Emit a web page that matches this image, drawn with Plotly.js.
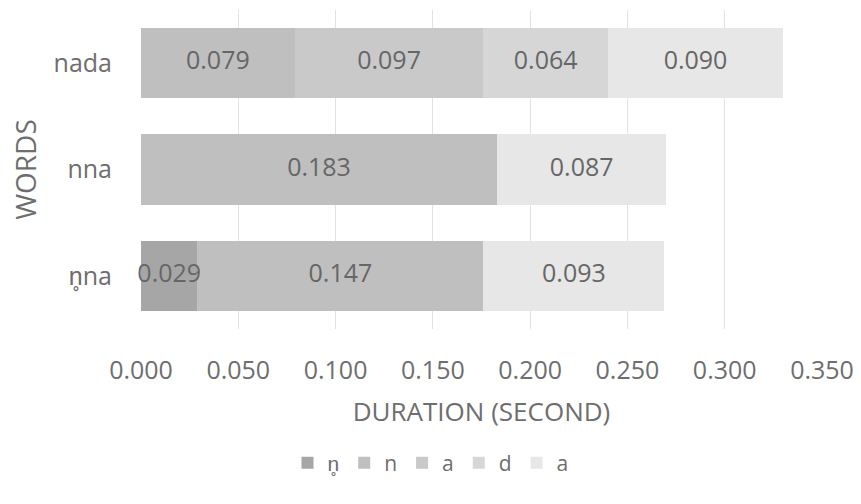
<!DOCTYPE html>
<html>
<head>
<meta charset="utf-8">
<script src="https://cdn.plot.ly/plotly-3.0.1.min.js"></script>
<style>html,body{margin:0;padding:0;background:#fff}#chart{width:861px;height:504px}</style>
</head>
<body>
<div id="chart"></div>
<script>
// Categories, bottom to top
const words = ["n\u0325na", "nna", "nada"];
// Segment series (null = segment not present)
const segNames = ["n\u0325", "n", "a", "d", "a"];
const segN0 = [0.029, null, null];     // n̥
const segN  = [0.147, 0.183, 0.079];   // n
const segA1 = [null, null, 0.097];     // a
const segD  = [null, null, 0.064];     // d
const segA2 = [0.093, 0.087, 0.090];   // a (final)
const xTicks = [0, 0.05, 0.10, 0.15, 0.20, 0.25, 0.30, 0.35];
const xTickText = ["0.000","0.050","0.100","0.150","0.200","0.250","0.300","0.350"];

const colors = ["#a6a6a6", "#bfbfbf", "#c9c9c9", "#d6d6d6", "#e7e7e7"];
const series = [segN0, segN, segA1, segD, segA2];
const FONT = "Open Sans, sans-serif";
const TXT = "#6e6e6e";

const traces = series.map((vals, i) => ({
  type: "bar",
  orientation: "h",
  name: segNames[i],
  y: words,
  x: vals,
  marker: {color: colors[i], line: {width: 0}},
  hoverinfo: "skip"
}));

// Data labels drawn on top of all bars, centred on each segment (derived from the data)
const lx = [], ly = [], lt = [];
words.forEach((w, j) => {
  let base = 0;
  series.forEach(vals => {
    const v = vals[j];
    if (v != null) {
      lx.push(base + v / 2); ly.push(w); lt.push(v.toFixed(3));
      base += v;
    }
  });
});
traces.push({
  type: "scatter", mode: "text",
  x: lx, y: ly, text: lt,
  textposition: "middle center",
  textfont: {family: FONT, size: 25, color: "#666666"},
  cliponaxis: false, showlegend: false, hoverinfo: "skip"
});

const layout = {
  width: 861, height: 504,
  margin: {l: 141, r: 39, t: 10, b: 175},
  barmode: "stack",
  bargap: 0.34,
  paper_bgcolor: "#fff",
  plot_bgcolor: "#fff",
  font: {family: FONT, color: TXT},
  xaxis: {
    range: [0, 0.35],
    tickvals: xTicks,
    ticktext: xTickText,
    showgrid: true,
    gridcolor: "#e2e2e2",
    gridwidth: 1,
    zeroline: false,
    showline: false,
    ticks: "",
    ticklabelstandoff: 24,
    tickfont: {family: FONT, size: 25, color: TXT},
    title: {text: "DURATION (SECOND)", font: {family: FONT, size: 26, color: TXT}, standoff: 17}
  },
  yaxis: {
    showgrid: false,
    zeroline: false,
    showline: false,
    ticks: "",
    ticklabelstandoff: 28,
    tickfont: {family: FONT, size: 25, color: TXT},
    title: {text: "WORDS", font: {family: FONT, size: 28, color: TXT}, standoff: 8}
  },
  showlegend: true,
  legend: {
    orientation: "h",
    xref: "container", yref: "container",
    x: 0.5, xanchor: "center",
    y: 0.081, yanchor: "middle",
    font: {family: FONT, size: 21, color: TXT},
    traceorder: "normal"
  }
};

Plotly.newPlot("chart", traces, layout, {displayModeBar: false, staticPlot: true});
</script>
</body>
</html>
